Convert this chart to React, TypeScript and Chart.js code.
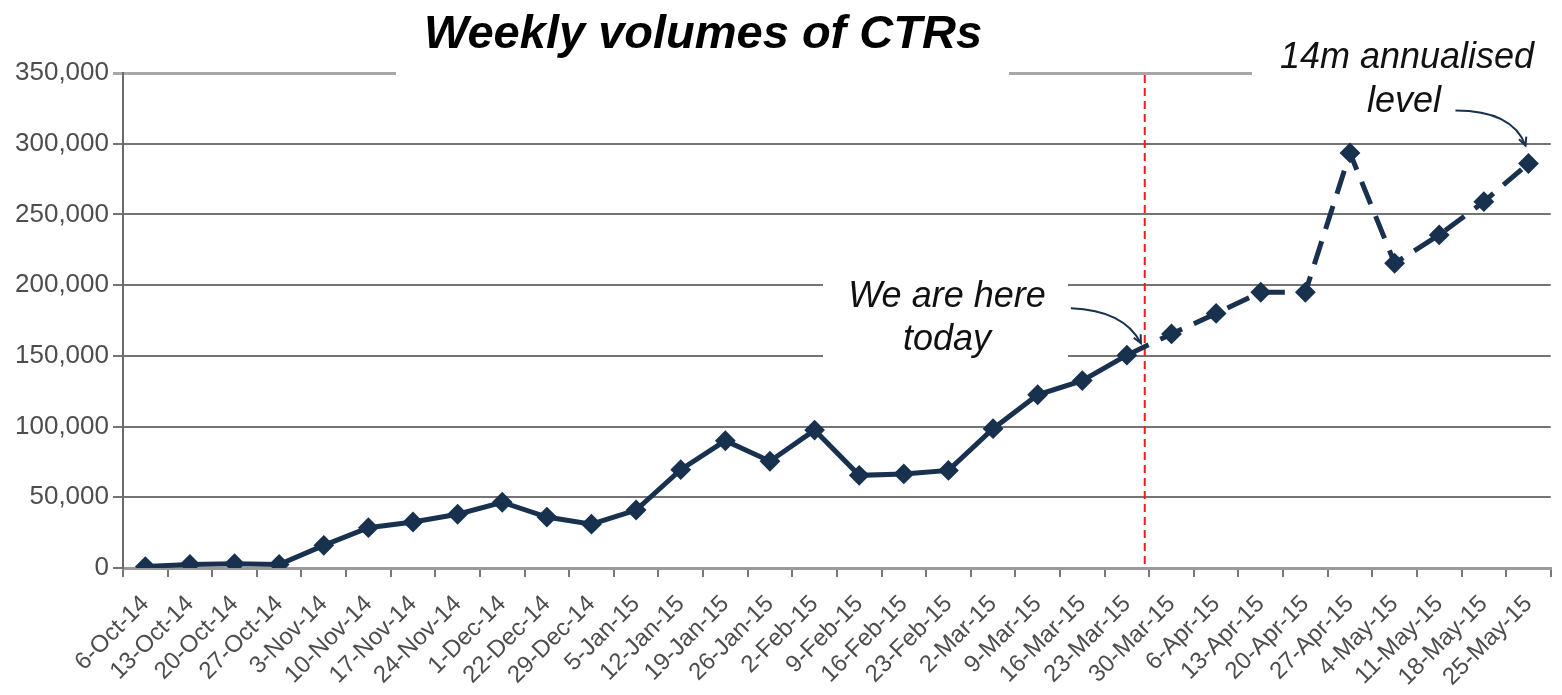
import React, { useEffect, useRef } from "react";
import { Chart, registerables } from "chart.js";

Chart.register(...registerables);

const categories = [
  "6-Oct-14", "13-Oct-14", "20-Oct-14", "27-Oct-14", "3-Nov-14", "10-Nov-14",
  "17-Nov-14", "24-Nov-14", "1-Dec-14", "22-Dec-14", "29-Dec-14", "5-Jan-15",
  "12-Jan-15", "19-Jan-15", "26-Jan-15", "2-Feb-15", "9-Feb-15", "16-Feb-15",
  "23-Feb-15", "2-Mar-15", "9-Mar-15", "16-Mar-15", "23-Mar-15", "30-Mar-15",
  "6-Apr-15", "13-Apr-15", "20-Apr-15", "27-Apr-15", "4-May-15", "11-May-15",
  "18-May-15", "25-May-15",
];

const actualValues = [
  1000, 2500, 3000, 2500, 16000, 28500, 32500, 38000, 46500, 36000, 31000,
  41000, 69500, 90000, 75500, 97500, 65500, 66500, 69000, 98500, 122500,
  132500, 150500,
];

const forecastValues = [
  150500, 165500, 180000, 195000, 195000, 293500, 215500, 235500, 259000, 286000,
];

const todayIndex = 22;
const yTicks = [0, 50000, 100000, 150000, 200000, 250000, 300000, 350000];

const titleText = "Weekly volumes of CTRs";
const todayLines = ["We are here", "today"];
const levelLines = ["14m annualised", "level"];

const NAVY = "#17314f";

function arrow(ctx: CanvasRenderingContext2D, sx: number, sy: number, cx: number, cy: number, ex: number, ey: number) {
  ctx.beginPath();
  ctx.moveTo(sx, sy);
  ctx.quadraticCurveTo(cx, cy, ex, ey);
  ctx.stroke();
  const ang = Math.atan2(ey - cy, ex - cx);
  const len = 9;
  ctx.beginPath();
  ctx.moveTo(ex - len * Math.cos(ang - 0.45), ey - len * Math.sin(ang - 0.45));
  ctx.lineTo(ex, ey);
  ctx.lineTo(ex - len * Math.cos(ang + 0.45), ey - len * Math.sin(ang + 0.45));
  ctx.stroke();
}

const overlayPlugin = {
  id: "overlay",
  beforeDatasetsDraw(chart: any) {
    const { ctx, chartArea, scales } = chart;
    const x = scales.x;
    const y = scales.y;
    const top = y.getPixelForValue(350000);
    ctx.save();
    ctx.fillStyle = "#ffffff";
    // title box
    ctx.fillRect(396, 0, 613, top + 3);
    // top-right annotation box
    ctx.fillRect(1252, 0, chart.width - 1252, top + 3);
    // "we are here" box
    const y200 = y.getPixelForValue(200000);
    const y150 = y.getPixelForValue(150000);
    ctx.fillRect(823, y200 - 16, 245, y150 - y200 + 24);

    // red dashed "today" line
    const x0 = x.getPixelForValue(todayIndex);
    const x1 = x.getPixelForValue(todayIndex + 1);
    const rx = x0 + 0.4 * (x1 - x0);
    ctx.strokeStyle = "#ee1c25";
    ctx.lineWidth = 2;
    ctx.setLineDash([8, 5]);
    ctx.beginPath();
    ctx.moveTo(rx, top + 2);
    ctx.lineTo(rx, chartArea.bottom);
    ctx.stroke();
    ctx.restore();
  },
  afterDraw(chart: any) {
    const { ctx, scales } = chart;
    const x = scales.x;
    const y = scales.y;
    ctx.save();
    // title
    ctx.fillStyle = "#000";
    ctx.textAlign = "center";
    ctx.textBaseline = "alphabetic";
    ctx.font = 'italic bold 47px "Liberation Sans", Arial, sans-serif';
    ctx.fillText(titleText, 703, 48);

    ctx.font = 'italic 36px "Liberation Sans", Arial, sans-serif';
    ctx.fillStyle = "#111";
    ctx.fillText(todayLines[0], 947, 307);
    ctx.fillText(todayLines[1], 947, 350);
    ctx.fillText(levelLines[0], 1407, 68);
    ctx.fillText(levelLines[1], 1404, 112);

    // arrows
    ctx.strokeStyle = NAVY;
    ctx.lineWidth = 2;
    const px = x.getPixelForValue(todayIndex);
    const py = y.getPixelForValue(actualValues[todayIndex]);
    arrow(ctx, px - 56, py - 47, px - 3, py - 45, px + 14, py - 12);
    const lastIdx = categories.length - 1;
    const lx = x.getPixelForValue(lastIdx);
    const ly = y.getPixelForValue(forecastValues[forecastValues.length - 1]);
    arrow(ctx, lx - 73, ly - 53, lx - 16, ly - 53, lx - 3, ly - 18);
    ctx.restore();
  },
};

export default function App() {
  const canvasRef = useRef<HTMLCanvasElement | null>(null);

  useEffect(() => {
    if (!canvasRef.current) return;
    const solid = categories.map((_, i) => (i < actualValues.length ? actualValues[i] : null));
    const dashed = categories.map((_, i) =>
      i >= todayIndex ? forecastValues[i - todayIndex] : null
    );
    const chart = new Chart(canvasRef.current, {
      type: "line",
      data: {
        labels: categories,
        datasets: [
          {
            label: "Actual",
            data: solid,
            borderColor: NAVY,
            backgroundColor: NAVY,
            borderWidth: 5,
            pointStyle: "rectRot",
            pointRadius: 9,
            pointBorderWidth: 2,
            pointBackgroundColor: NAVY,
            pointBorderColor: NAVY,
            tension: 0,
          },
          {
            label: "Forecast",
            data: dashed,
            borderColor: NAVY,
            backgroundColor: NAVY,
            borderWidth: 5,
            borderDash: [24, 13],
            pointStyle: "rectRot",
            pointRadius: (c: any) => (c.dataIndex === todayIndex ? 0 : 9),
            pointBorderWidth: 2,
            pointBackgroundColor: NAVY,
            pointBorderColor: NAVY,
            tension: 0,
          },
        ],
      },
      options: {
        animation: false,
        responsive: true,
        maintainAspectRatio: false,
        layout: { padding: { top: 73, right: 8, left: 0, bottom: 0 } },
        plugins: {
          legend: { display: false },
          title: { display: false },
          tooltip: { enabled: false },
        },
        scales: {
          x: {
            type: "category",
            offset: true,
            grid: {
              offset: true,
              drawOnChartArea: false,
              drawTicks: true,
              tickLength: 9,
              color: "#777",
              lineWidth: 2,
            },
            border: { display: true, color: "#999", width: 3 },
            ticks: {
              autoSkip: false,
              maxRotation: 45,
              minRotation: 45,
              padding: 13,
              color: "#4d4d4d",
              font: { family: '"Liberation Sans", Arial, sans-serif', size: 24 },
            },
            afterFit: (s: any) => {
              s.height = 127;
            },
          },
          y: {
            min: 0,
            max: 350000,
            afterBuildTicks: (s: any) => {
              s.ticks = yTicks.map((v) => ({ value: v }));
            },
            grid: {
              color: (c: any) => (c.tick && c.tick.value === 350000 ? "#a8a8a8" : "#747474"),
              lineWidth: (c: any) => (c.tick && c.tick.value === 350000 ? 3 : 2),
              tickLength: 10,
            },
            border: { display: true, color: "#6a6a6a", width: 2 },
            ticks: {
              padding: 4,
              color: "#4d4d4d",
              font: { family: '"Liberation Sans", Arial, sans-serif', size: 26 },
              callback: (v: any) => Number(v).toLocaleString("en-US"),
            },
            afterFit: (s: any) => {
              s.width = 123;
            },
          },
        },
      },
      plugins: [overlayPlugin],
    });
    return () => chart.destroy();
  }, []);

  return (
    <div style={{ position: "absolute", left: 0, top: 0, width: 1562, height: 695, background: "#fff" }}>
      <canvas ref={canvasRef} />
    </div>
  );
}
